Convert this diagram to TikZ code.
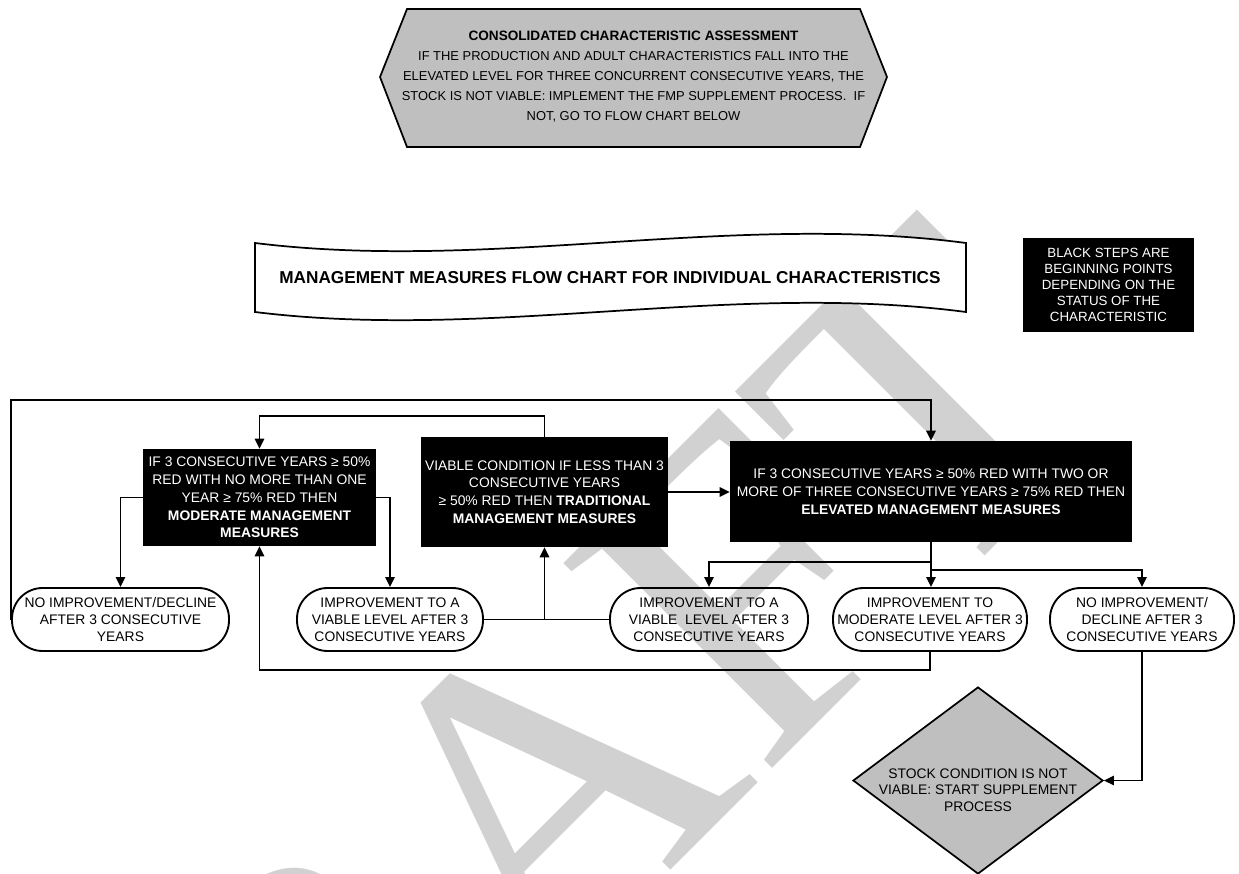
\documentclass[tikz,border=0pt]{standalone}
\usepackage{fontspec}
\setmainfont{Liberation Sans}
\newfontfamily\wmfont{Liberation Serif}
\usetikzlibrary{arrows.meta,shapes.geometric}
\begin{document}
\begin{tikzpicture}[x=0.75pt,y=-0.75pt,
  every node/.style={inner sep=0pt, align=center},
  txt/.style={font=\fontsize{10.4}{12.8}\selectfont},
  ln/.style={line width=1.3pt},
  arr/.style={line width=1.3pt,-{Triangle[length=7.5pt,width=7pt]}},
  blk/.style={font=\fontsize{10.4}{13.3}\selectfont, fill=black, text=white},
  term/.style={txt, draw, line width=1.4pt, rounded corners=23pt, minimum height=47.25pt},
  grayfill/.style={fill=black!25}
]
\useasboundingbox (0,0) rectangle (1239,874);
\fill[white] (0,0) rectangle (1239,874);

% watermark
\begin{scope}
\clip (0,0) rectangle (1239,874);
\node[font=\wmfont\fontsize{335}{335}\selectfont, text=black!18, rotate=45, anchor=base] (wm) at (612,929) {DRAFT};
\end{scope}

% top hexagon
\draw[ln, grayfill] (380,77) -- (407,9) -- (860,9) -- (887,77) -- (860,147) -- (407,147) -- cycle;
\node[font=\fontsize{9.7}{15}\selectfont] (hex) at (633.5,77) {{\bfseries\fontsize{10.2}{15}\selectfont CONSOLIDATED CHARACTERISTIC ASSESSMENT}\\
IF THE PRODUCTION AND ADULT CHARACTERISTICS FALL INTO THE\\
ELEVATED LEVEL FOR THREE CONCURRENT CONSECUTIVE YEARS, THE\\
STOCK IS NOT VIABLE: IMPLEMENT THE FMP SUPPLEMENT PROCESS.\ \ IF\\
NOT, GO TO FLOW CHART BELOW};

% banner
\draw[ln, fill=white] (255,243) .. controls (490,272) and (730,212) .. (966,243) -- (966,312) .. controls (730,281) and (490,341) .. (255,312) -- cycle;
\node[font=\bfseries\fontsize{12.9}{14}\selectfont] (ban) at (610,278) {MANAGEMENT MEASURES FLOW CHART FOR INDIVIDUAL CHARACTERISTICS};

% note
\node[blk, font=\fontsize{10}{12}\selectfont, minimum width=128.25pt, minimum height=70.5pt] (note) at (1108.5,285) {BLACK STEPS ARE\\BEGINNING POINTS\\DEPENDING ON THE\\STATUS OF THE\\CHARACTERISTIC};

% black boxes
\node[blk, minimum width=174.75pt, minimum height=72.75pt] (L) at (259.5,497.5) {IF 3 CONSECUTIVE YEARS ≥ 50\%\\RED WITH NO MORE THAN ONE\\YEAR ≥ 75\% RED THEN\\\textbf{MODERATE MANAGEMENT}\\\textbf{MEASURES}};
\node[blk, minimum width=185.25pt, minimum height=82.5pt] (M) at (544.5,492) {VIABLE CONDITION IF LESS THAN 3\\CONSECUTIVE YEARS\\≥ 50\% RED THEN \textbf{TRADITIONAL}\\\textbf{MANAGEMENT MEASURES}};
\node[blk, minimum width=301.5pt, minimum height=75.75pt] (E) at (931,491.5) {IF 3 CONSECUTIVE YEARS ≥ 50\% RED WITH TWO OR\\MORE OF THREE CONSECUTIVE YEARS ≥ 75\% RED THEN\\\textbf{ELEVATED MANAGEMENT MEASURES}};

% terminals
\node[term, minimum width=162.75pt] (T1) at (120.5,619.5) {NO IMPROVEMENT/DECLINE\\AFTER 3 CONSECUTIVE\\YEARS};
\node[term, minimum width=139.5pt] (T2) at (390,619.5) {IMPROVEMENT TO A\\VIABLE LEVEL AFTER 3\\CONSECUTIVE YEARS};
\node[term, minimum width=148.5pt] (T3) at (709,619.5) {IMPROVEMENT TO A\\VIABLE\ \ LEVEL AFTER 3\\CONSECUTIVE YEARS};
\node[term, minimum width=145.5pt] (T4) at (930,619.5) {IMPROVEMENT TO\\MODERATE LEVEL AFTER 3\\CONSECUTIVE YEARS};
\node[term, minimum width=138pt] (T5) at (1142,619.5) {NO IMPROVEMENT/\\DECLINE AFTER 3\\CONSECUTIVE YEARS};

% diamond
\node[diamond, draw, ln, grayfill, minimum width=187.5pt, minimum height=140.25pt] (dia) at (978,780.5) {};
\node[font=\fontsize{10.4}{12.5}\selectfont] (diatext) at (978,790) {STOCK CONDITION IS NOT\\VIABLE: START SUPPLEMENT\\PROCESS};

% helper levels
\coordinate (top) at (0,400);
\coordinate (mid) at (0,416);
\coordinate (b1) at (0,562);
\coordinate (b2) at (0,570);
\coordinate (bot) at (0,670);

% connectors
\draw[arr] (T1.west) -- (T1.west |- top) -| (E.north);
\draw[arr] (M.north) -- (M.north |- mid) -| (L.north);
\draw[arr] (L.west) -| (T1.north);
\draw[arr] (L.east) -| (T2.north);
\draw[arr] (M.east) -- (M.east -| E.west);
\draw[ln] (T2.east) -- (T3.west);
\draw[arr] (T2.east -| M.south) -- (M.south);
\draw[arr] (E.south) -- (E.south |- T4.north);
\draw[arr] (E.south |- b1) -| (T3.north);
\draw[arr] (E.south |- b2) -| (T5.north);
\draw[arr] (T4.south) -- (T4.south |- bot) -| (L.south);
\draw[arr] (T5.south) |- (dia.east);
\end{tikzpicture}
\end{document}
